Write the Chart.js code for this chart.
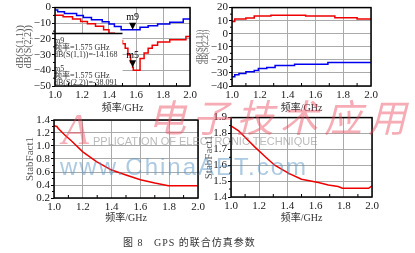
<!DOCTYPE html>
<html>
<head>
<meta charset="utf-8">
<script src="https://cdn.jsdelivr.net/npm/chart.js@4.4.1/dist/chart.umd.min.js"></script>
<style>
  html, body { margin: 0; padding: 0; background: #fff; width: 415px; height: 253px; overflow: hidden; position: relative; }
  canvas { position: absolute; }
  .wm { position: absolute; white-space: nowrap; pointer-events: none; z-index: 5; }
  #caption { position: absolute; left: 123px; top: 234px; font: 10px "Liberation Serif", "Noto Sans CJK SC", serif; color: #333; letter-spacing: 1px; white-space: pre; }
</style>
</head>
<body>
<canvas id="cTL" width="200" height="116" style="left:0;top:0"></canvas>
<canvas id="cTR" width="220" height="116" style="left:195px;top:0"></canvas>
<canvas id="cBL" width="210" height="116" style="left:0;top:110px"></canvas>
<canvas id="cBR" width="220" height="116" style="left:195px;top:110px"></canvas>

<div class="wm" style="left:148px;top:88px;font:italic 38px 'Noto Sans CJK SC';color:rgba(235,70,90,.45);letter-spacing:6px">电子技术应用</div>
<div class="wm" style="left:62px;top:104px;font:italic 44px 'Liberation Serif';color:rgba(235,70,90,.45)">A</div>
<div class="wm" style="left:93px;top:135px;font:11px 'Liberation Sans';color:rgba(140,140,140,.6)">PPLICATION OF ELECTRONIC TECHNIQUE</div>
<div class="wm" style="left:60px;top:153px;font:24px 'Liberation Sans';color:rgba(90,150,195,.5);letter-spacing:2px">www.ChinaAET.com</div>

<div id="caption">图 8   GPS 的联合仿真参数</div>

<script>
'use strict';

/* ── Data ───────────────────────────────────────────────────────── */
const freqTicks   = [1.0, 1.2, 1.4, 1.6, 1.8, 2.0];
const dbTicksTL   = [-50, -40, -30, -20, -10, 0];
const dbTicksTR   = [-40, -30, -20, -10, 0, 10, 20];
const stabTicksBL = [0.2, 0.4, 0.6, 0.8, 1.0, 1.2, 1.4];
const stabTicksBR = [1.4, 1.5, 1.6, 1.7, 1.8, 1.9];

// top-left: dB(S(1,1)) blue, dB(S(2,2)) red
const s11Freq = [1.00, 1.02, 1.07, 1.16, 1.21, 1.27, 1.35, 1.40, 1.44, 1.49, 1.63, 1.69, 1.76, 1.85, 1.95, 2.00];
const s11Db   = [-1.6, -2.7, -3.8, -5.0, -6.3, -7.7, -9.0, -10.5, -12.1, -14.2, -12.6, -11.5, -10.5, -9.4, -7.3, -7.3];
const s22Freq = [1.00, 1.06, 1.13, 1.19, 1.24, 1.30, 1.36, 1.40, 1.44, 1.47, 1.50, 1.52, 1.54, 1.56, 1.575, 1.58, 1.63, 1.66, 1.69, 1.72, 1.76, 1.85, 1.97, 2.00];
const s22Db   = [-4.8, -5.9, -7.3, -8.8, -10.3, -11.9, -14.2, -16.4, -18.5, -21, -23, -26, -30, -35, -38.1, -40, -32.5, -29, -26, -24, -22, -20.5, -18.4, -18.4];

// markers
const markerNames = ['m9', 'm5'];
const markerFreq  = [1.575, 1.575];
const markerDb    = [-14.168, -38.091];

// top-right
const trRedFreq  = [1.00, 1.02, 1.10, 1.16, 1.28, 1.53, 1.74, 1.90, 2.00];
const trRedDb    = [9.4, 11.2, 12.0, 13.5, 14.2, 13.5, 12.2, 11.2, 11.2];
const trBlueFreq = [1.00, 1.02, 1.05, 1.10, 1.16, 1.19, 1.25, 1.31, 1.45, 1.69, 2.00];
const trBlueDb   = [-32.9, -31.4, -30.4, -29.1, -28.1, -26.6, -25.8, -24.3, -23.3, -22.1, -22.1];

// bottom: StabFact1
const stabLFreq = [1.00, 1.02, 1.03, 1.075, 1.12, 1.20, 1.295, 1.40, 1.505, 1.60, 1.70, 1.795, 2.00];
const stabLVal  = [1.31, 1.30, 1.27, 1.17, 1.08, 0.91, 0.76, 0.63, 0.55, 0.48, 0.43, 0.39, 0.39];
const stabRFreq = [1.00, 1.054, 1.10, 1.17, 1.245, 1.31, 1.41, 1.50, 1.62, 1.69, 1.76, 1.79, 1.976, 2.00];
const stabRVal  = [1.848, 1.817, 1.776, 1.714, 1.652, 1.60, 1.549, 1.512, 1.491, 1.476, 1.466, 1.455, 1.455, 1.47];

/* ── Styles ─────────────────────────────────────────────────────── */
const RED   = '#ee0000';
const BLUE  = '#0000ee';
const GRID  = '#aaaaaa';
const SERIF = '"Liberation Serif", "Noto Sans CJK SC", serif';

const pts    = (xs, ys) => xs.map((x, i) => ({ x, y: ys[i] }));
const minors = t => t.slice(1).map((v, i) => (v + t[i]) / 2);
const fmtDb  = v => v < 0 ? '\u2212' + Math.abs(v) : String(v);
const fmt1   = v => v.toFixed(1);

/* ── Frame + minor ticks ────────────────────────────────────────── */
const framePlugin = {
  id: 'frame',
  afterDraw(chart, args, opts) {
    const { ctx, chartArea: a, scales: { x, y } } = chart;
    ctx.save();
    ctx.strokeStyle = '#000';
    ctx.lineWidth = 1;
    ctx.beginPath();
    (opts.xMinor || []).forEach(v => { const p = x.getPixelForValue(v); ctx.moveTo(p, a.bottom); ctx.lineTo(p, a.bottom - 3); });
    (opts.yMinor || []).forEach(v => { const p = y.getPixelForValue(v); ctx.moveTo(a.left, p); ctx.lineTo(a.left - 2, p); });
    ctx.stroke();
    ctx.lineWidth = 1.5;
    ctx.strokeRect(a.left, a.top, a.right - a.left, a.bottom - a.top);
    ctx.restore();
  }
};

/* ── Marker readout (top-left only) ─────────────────────────────── */
const markerPlugin = {
  id: 'markers',
  afterDatasetsDraw(chart) {
    const { ctx, chartArea: a, scales: { x, y } } = chart;
    const bx = a.left - 3, br = x.getPixelForValue(1.5), by = y.getPixelForValue(-16.5);
    ctx.save();
    ctx.fillStyle = '#fff';
    ctx.fillRect(a.left + 1, by, br - a.left - 1, a.bottom - by);
    ctx.strokeStyle = '#000'; ctx.lineWidth = 1.5;
    ctx.beginPath(); ctx.moveTo(bx, by); ctx.lineTo(br, by); ctx.stroke();

    ctx.fillStyle = '#333';
    ctx.font = '8px ' + SERIF;
    ctx.textBaseline = 'middle';
    const lines = [];
    markerNames.forEach((n, i) => {
      const s = i === 0 ? 'dB(S(1,1))' : 'dB(S(2,2))';
      lines.push(n, '频率=' + markerFreq[i].toFixed(3) + ' GHz', s + '=' + markerDb[i].toFixed(3));
    });
    const offs = [7, 14, 21, 35, 42, 49];
    lines.forEach((t, i) => ctx.fillText(t, a.left - 1, by + offs[i]));

    // triangles
    ctx.fillStyle = '#000';
    ctx.font = '10px ' + SERIF;
    ctx.textAlign = 'center';
    markerNames.forEach((n, i) => {
      const px = x.getPixelForValue(markerFreq[i]);
      const py = y.getPixelForValue(markerDb[i]);
      ctx.beginPath();
      ctx.moveTo(px - 3.5, py - 7); ctx.lineTo(px + 3.5, py - 7); ctx.lineTo(px, py); ctx.closePath();
      ctx.fill();
      ctx.fillText(n, px, py - 12);
    });
    ctx.restore();
  }
};

/* ── Chart builder ──────────────────────────────────────────────── */
function makeChart(id, c) {
  return new Chart(document.getElementById(id), {
    type: 'line',
    data: { datasets: c.datasets },
    plugins: [framePlugin].concat(c.extra || []),
    options: {
      responsive: false,
      animation: false,
      devicePixelRatio: 1,
      layout: { padding: c.pad },
      plugins: {
        legend: { display: false },
        tooltip: { enabled: false },
        frame: { xMinor: minors(freqTicks), yMinor: minors(c.yTicks) }
      },
      elements: { point: { radius: 0 }, line: { borderWidth: 1.5, tension: 0 } },
      scales: {
        x: {
          type: 'linear', min: 1, max: 2,
          afterBuildTicks: s => { s.ticks = freqTicks.map(v => ({ value: v })); },
          afterFit: s => { s.height = c.xh; },
          ticks: { callback: fmt1, color: '#222', font: { family: SERIF, size: 11 }, padding: 3, maxRotation: 0, autoSkip: false },
          grid: { color: GRID, drawTicks: false },
          border: { display: false },
          title: { display: true, text: '频率/GHz', color: '#333', font: { family: SERIF, size: 10 }, padding: { top: 0, bottom: 2 } }
        },
        y: {
          type: 'linear', min: c.yTicks[0], max: c.yTicks[c.yTicks.length - 1],
          afterBuildTicks: s => { s.ticks = c.yTicks.map(v => ({ value: v })); },
          afterFit: s => { s.width = c.yw; },
          ticks: { callback: c.yFmt, color: '#222', font: { family: SERIF, size: 11 }, padding: 1, autoSkip: false },
          grid: { color: GRID, tickColor: '#000', tickLength: 3 },
          border: { display: false },
          title: { display: true, text: c.yTitle, color: '#555', font: Object.assign({ family: SERIF }, c.yTitleFont), padding: { top: c.yTitlePad, bottom: 0 } }
        }
      }
    }
  });
}

makeChart('cTL', {
  datasets: [
    { data: pts(s22Freq, s22Db), borderColor: RED, stepped: true },
    { data: pts(s11Freq, s11Db), borderColor: BLUE, stepped: true }
  ],
  pad: { top: 7, right: 10, left: 0, bottom: 0 }, xh: 30, yw: 55,
  yTicks: dbTicksTL, yFmt: fmtDb,
  yTitle: ['dB(S(1,1))', 'dB(S(2,2))'], yTitleFont: { size: 10, lineHeight: '8px' }, yTitlePad: 16,
  extra: [markerPlugin]
});

makeChart('cTR', {
  datasets: [
    { data: pts(trRedFreq, trRedDb), borderColor: RED, stepped: true },
    { data: pts(trBlueFreq, trBlueDb), borderColor: BLUE, stepped: true }
  ],
  pad: { top: 7, right: 44, left: 0, bottom: 0 }, xh: 30, yw: 37,
  yTicks: dbTicksTR, yFmt: fmtDb,
  yTitle: ['dB(S(1,1))', 'dB(S(2,2))'], yTitleFont: { size: 8, lineHeight: '6px' }, yTitlePad: 2
});

makeChart('cBL', {
  datasets: [{ data: pts(stabLFreq, stabLVal), borderColor: RED }],
  pad: { top: 10, right: 12, left: 0, bottom: 0 }, xh: 28, yw: 54,
  yTicks: stabTicksBL, yFmt: fmt1,
  yTitle: 'StabFact1', yTitleFont: { size: 11 }, yTitlePad: 23.4
});

makeChart('cBR', {
  datasets: [{ data: pts(stabRFreq, stabRVal), borderColor: RED }],
  pad: { top: 7, right: 43, left: 0, bottom: 0 }, xh: 29, yw: 36,
  yTicks: stabTicksBR, yFmt: fmt1,
  yTitle: 'StabFact1', yTitleFont: { size: 11 }, yTitlePad: 7.9
});
</script>
</body>
</html>
